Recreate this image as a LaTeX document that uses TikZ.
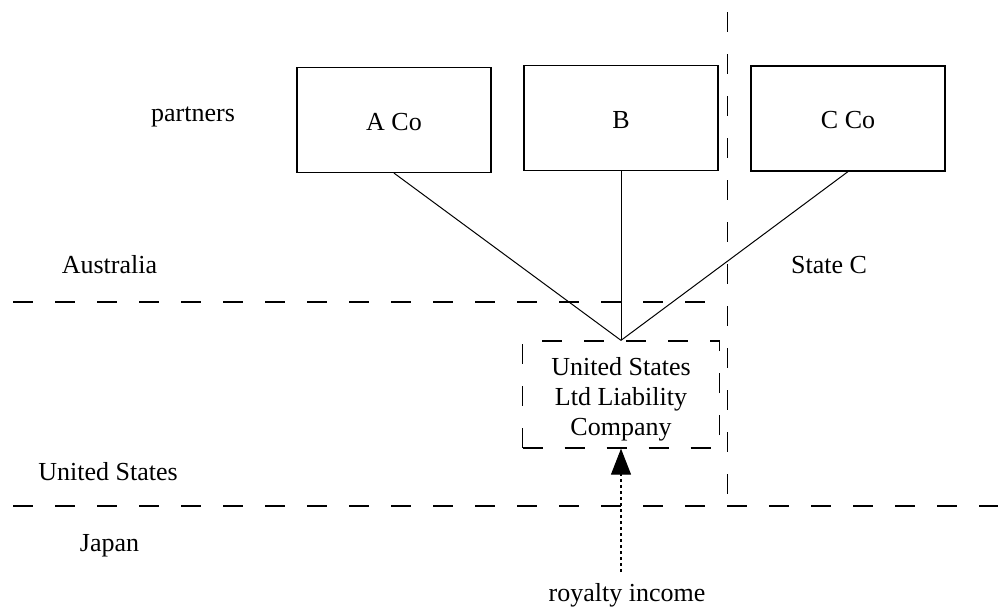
\documentclass[tikz,border=0pt]{standalone}
\usepackage{fontspec}
\setmainfont{Liberation Serif}
\usetikzlibrary{arrows.meta}
\begin{document}
\begin{tikzpicture}[x=1pt,y=-1pt,
  every node/.style={font=\fontsize{26}{30}\selectfont, inner sep=0pt},
  tag/.style={anchor=base},
  entity/.style={draw, line width=1.2pt, minimum width=194pt, minimum height=105pt, text height=20pt, text depth=0pt},
  llc/.style={draw, line width=1.3pt, dash pattern=on 20pt off 22pt, minimum width=197pt, minimum height=107pt},
  border/.style={line width=1.2pt, dash pattern=on 20pt off 22pt},
  link/.style={line width=1pt},
  flow/.style={line width=1.1pt, dash pattern=on 3pt off 3pt, -{Triangle[length=26pt,width=20pt]}}]
\useasboundingbox (0,0) rectangle (998,608);
% partner entities
\node[entity] (a) at (394,120) {A Co};
\node[entity] (b) at (621,118.2) {B};
\node[entity] (c) at (848,118.5) {C Co};
% the limited liability company
\node[llc] (llc) at (621,394.5)
  {\raisebox{-5pt}[\height][\depth]{\begin{tabular}{@{}c@{}}United States\\Ltd Liability\\Company\end{tabular}}};
% ownership links
\draw[link] (a.south) -- (llc.north);
\draw[link] (b.south) -- (llc.north);
\draw[link] (c.south) -- (llc.north);
% jurisdiction borders
\coordinate (h1w) at (13,302);
\coordinate (h1e) at (712,302);
\coordinate (vn) at (727.5,12);
\coordinate (vs) at (727.5,496);
\coordinate (h2w) at (13,506);
\coordinate (h2e) at (998,506);
\draw[border] (h1w) -- (h1e);
\draw[border] (vn) -- (vs);
\draw[border] (h2w) -- (h2e);
% region labels
\node[tag] (partners) at (193,121.5) {partners};
\node[tag] (aus) at (109.5,273) {Australia};
\node[tag] (statec) at (829,273) {State C};
\node[tag] (us) at (108,480) {United States};
\node[tag] (japan) at (109.5,551) {Japan};
% royalty flow
\node[tag] (roy) at (627,601.5) {royalty income};
\coordinate (flowstart) at (621,572);
\draw[flow] (flowstart) -- (llc.south);
\end{tikzpicture}
\end{document}
